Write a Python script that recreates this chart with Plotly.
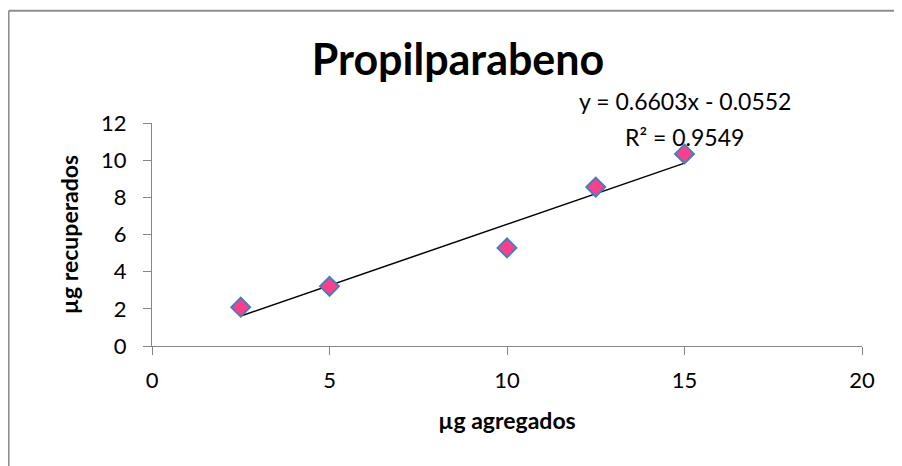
import numpy as np
import plotly.graph_objects as go

# Data
ug_agregados = [2.5, 5, 10, 12.5, 15]
ug_recuperados = [2.09, 3.21, 5.28, 8.55, 10.33]
x_ticks = [0, 5, 10, 15, 20]
y_ticks = [0, 2, 4, 6, 8, 10, 12]
title_text = "Propilparabeno"
x_title = "µg agregados"
y_title = "µg recuperados"
eq_line1 = "y = 0.6603x - 0.0552"
eq_line2 = "R² = 0.9549"

slope, intercept = np.polyfit(ug_agregados, ug_recuperados, 1)
x_fit = [min(ug_agregados), max(ug_agregados)]
y_fit = [slope * v + intercept for v in x_fit]

FONT = "Lato"
W, H = 894, 458  # page body has an 8px margin
L, R, T, B = 144, 40, 115, 120
plot_w = W - L - R
plot_h = H - T - B

fig = go.Figure()
fig.add_trace(go.Scatter(
    x=x_fit, y=y_fit, mode="lines",
    line=dict(color="black", width=1.5),
    hoverinfo="skip", showlegend=False,
))
fig.add_trace(go.Scatter(
    x=ug_agregados, y=ug_recuperados, mode="markers",
    marker=dict(symbol="diamond", size=14.5, color="#FA3F8C",
                line=dict(color="#4A7EBB", width=2)),
    showlegend=False,
))

# equation label lines (page pixel centres 101 and 137)
for txt, py in [(eq_line1, 101), (eq_line2, 137)]:
    fig.add_annotation(
        x=15, y=(345.5 - py) / 222.5, xref="x", yref="paper", text=txt,
        showarrow=False, xanchor="center", yanchor="middle", align="center",
        font=dict(family=FONT, size=23, color="black"),
    )

# chart-area frame (left and top edges visible)
bx = (0.6 - L) / plot_w
by = (plot_h + T - 2.8) / plot_h
frame = dict(color="#8E8E8E", width=2)
fig.update_layout(
    width=W, height=H,
    margin=dict(l=L, r=R, t=T, b=B, pad=0),
    paper_bgcolor="white", plot_bgcolor="white",
    title=dict(text=f"<b>{title_text}</b>", x=(458 - 8) / W, xanchor="center",
               xref="container", y=1 - 52 / H, yanchor="middle",
               yref="container",
               font=dict(family=FONT, size=43, color="black")),
    font=dict(family=FONT, color="black"),
    shapes=[
        dict(type="line", xref="paper", yref="paper", x0=bx, x1=bx,
             y0=-0.7, y1=by, line=frame, layer="below"),
        dict(type="line", xref="paper", yref="paper", x0=bx, x1=1.3,
             y0=by, y1=by, line=frame, layer="below"),
    ],
)
fig.update_xaxes(
    range=[0, 20], tickvals=x_ticks, showgrid=False, zeroline=False,
    showline=True, linecolor="#868686", linewidth=1,
    ticks="outside", ticklen=8, tickcolor="#868686",
    ticklabelstandoff=7,
    tickfont=dict(family=FONT, size=22, color="black"),
    title=dict(text=f"<b>{x_title}</b>", standoff=20,
               font=dict(family=FONT, size=23, color="black")),
)
fig.update_yaxes(
    range=[0, 12], tickvals=y_ticks, showgrid=False, zeroline=False,
    showline=True, linecolor="#868686", linewidth=1,
    ticks="outside", ticklen=8, tickcolor="#868686",
    ticklabelstandoff=12,
    tickfont=dict(family=FONT, size=22, color="black"),
    title=dict(text=f"<b>{y_title}</b>", standoff=16,
               font=dict(family=FONT, size=23, color="black")),
)

fig.write_html("out.html", config={"displayModeBar": False})
